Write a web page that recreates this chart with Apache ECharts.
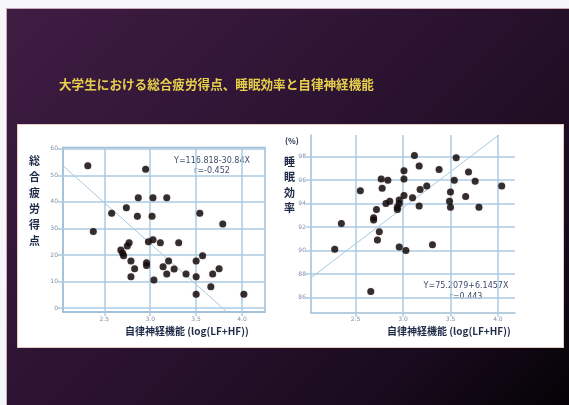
<!DOCTYPE html>
<html>
<head>
<meta charset="utf-8">
<script src="https://cdn.jsdelivr.net/npm/echarts@6/dist/echarts.min.js"></script>
<style>
  html, body { margin: 0; padding: 0; background: #f6f5f7; overflow: hidden; }
  #stage { position: relative; width: 569px; height: 405px; }
  #slide {
    position: absolute; left: 6px; top: 8px; width: 562px; height: 396px;
    border-left: 1px solid #c9a9b8; border-top: 1px solid #c9a9b8;
    background: linear-gradient(135deg, #3e1d43 0%, #2c1331 45%, #190b1d 80%, #040205 100%);
  }
  #panel {
    position: absolute; left: 17px; top: 124px; width: 545px; height: 222px;
    background: #ffffff; border: 1px solid #e8c9c6;
  }
  #chart { position: absolute; left: 0; top: 0; width: 569px; height: 405px; }
</style>
</head>
<body>
<div id="stage">
  <div id="slide"></div>
  <div id="panel"></div>
  <div id="chart"></div>
</div>
<script>
// Autonomic nerve function (log(LF+HF)) vs. total fatigue score and sleep efficiency
const titleText = '大学生における総合疲労得点、睡眠効率と自律神経機能';
const xAxisTitle = '自律神経機能 (log(LF+HF))';
const fatigueTitle = '総合疲労得点';
const efficiencyTitle = '睡眠効率';

const xTicks = [2.5, 3.0, 3.5, 4.0];
const fatigueTicks = [0, 10, 20, 30, 40, 50, 60];
const efficiencyTicks = [86, 88, 90, 92, 94, 96, 98];

// [log(LF+HF), total fatigue score]
const fatiguePoints = [
  [2.32, 53.6], [2.95, 52.3], [2.87, 41.6], [3.03, 41.6], [3.18, 41.6],
  [2.74, 37.8], [2.58, 35.7], [2.86, 34.6], [3.02, 34.6], [3.54, 35.7],
  [3.79, 31.7], [2.38, 28.8], [2.98, 25.0], [3.03, 25.7], [3.11, 24.6],
  [3.31, 24.6], [2.77, 24.6], [2.75, 23.4], [2.68, 21.9], [2.70, 20.6],
  [2.71, 19.7], [2.79, 17.7], [2.96, 17.1], [2.96, 16.0], [2.83, 14.8],
  [2.79, 11.8], [3.04, 10.6], [3.14, 15.6], [3.20, 17.7], [3.26, 14.7],
  [3.18, 12.8], [3.39, 12.8], [3.50, 17.7], [3.57, 19.7], [3.50, 11.8],
  [3.50, 5.2], [3.66, 8.0], [3.68, 12.8], [3.75, 14.8], [4.02, 5.2]
];

// [log(LF+HF), sleep efficiency %]
const efficiencyPoints = [
  [3.12, 98.1], [3.56, 97.9], [3.17, 97.2], [3.01, 96.8], [3.38, 96.9],
  [3.69, 96.7], [2.77, 96.1], [2.84, 96.0], [3.01, 96.1], [3.54, 96.0],
  [3.76, 95.9], [4.04, 95.5], [2.55, 95.1], [2.78, 95.3], [3.25, 95.5],
  [3.18, 95.2], [3.50, 95.0], [3.01, 94.7], [3.10, 94.5], [3.66, 94.6],
  [2.96, 94.3], [2.86, 94.2], [2.82, 94.0], [2.96, 94.0], [2.94, 93.7],
  [2.94, 93.5], [3.17, 93.8], [3.49, 94.2], [3.50, 93.7], [3.80, 93.7],
  [2.72, 93.5], [2.69, 92.8], [2.69, 92.6], [2.35, 92.3], [2.75, 91.6],
  [2.73, 90.9], [2.28, 90.1], [2.96, 90.3], [3.03, 90.0], [3.31, 90.5],
  [2.66, 86.5]
];

// Regression results: [intercept, slope]
const fatigueFit = [116.818, -30.84];
const efficiencyFit = [75.2079, 6.1457];
const fatigueEquation = ['Y=116.818-30.84X', 'r=-0.452'];
const efficiencyEquation = ['Y=75.2079+6.1457X', 'r=0.443'];

const fatigueRange = { xMin: 2.05, xMax: 4.25, yMin: -1.5, yMax: 60.5 };
const efficiencyRange = { xMin: 2.03, xMax: 4.18, yMin: 84.7, yMax: 99.85 };

// Clip a fitted line y = a + b x to the plotting rectangle
function fitSegment(fit, r) {
  const a = fit[0], b = fit[1];
  const pts = [];
  const cand = [
    [r.xMin, a + b * r.xMin],
    [r.xMax, a + b * r.xMax],
    [(r.yMin - a) / b, r.yMin],
    [(r.yMax - a) / b, r.yMax]
  ];
  cand.forEach(p => {
    if (p[0] >= r.xMin - 1e-9 && p[0] <= r.xMax + 1e-9 &&
        p[1] >= r.yMin - 1e-9 && p[1] <= r.yMax + 1e-9) pts.push(p);
  });
  pts.sort((p, q) => p[0] - q[0]);
  return [pts[0], pts[pts.length - 1]];
}

const gridColor = '#abcbe2';
const axisColor = '#a0bfd6';
const tickLabelColor = '#7f90a6';
const darkText = '#1f2a47';
const eqColor = '#3d4b6b';
const jpFont = '"Noto Sans CJK JP", "Noto Sans", sans-serif';

function makeXAxis(gridIndex, r) {
  return {
    type: 'value', gridIndex: gridIndex, min: r.xMin, max: r.xMax,
    axisLine: { show: true, onZero: false, lineStyle: { color: axisColor, width: 1.5 } },
    axisTick: { show: true, length: 4, customValues: xTicks, lineStyle: { color: gridColor, width: 1.5 } },
    axisLabel: { customValues: xTicks, fontSize: 6, color: tickLabelColor, margin: 4,
                 fontFamily: 'DejaVu Sans', formatter: v => v.toFixed(1) },
    splitLine: { show: false }
  };
}
function makeYAxis(gridIndex, r, ticks) {
  return {
    type: 'value', gridIndex: gridIndex, min: r.yMin, max: r.yMax,
    axisLine: { show: true, onZero: false, lineStyle: { color: axisColor, width: 1.5 } },
    axisTick: { show: true, length: 5, customValues: ticks, lineStyle: { color: gridColor, width: 1.5 } },
    axisLabel: { customValues: ticks, fontSize: 6, color: tickLabelColor, margin: 5,
                 fontFamily: 'DejaVu Sans' },
    splitLine: { show: false }
  };
}

// Grid lines at the tick values, drawn as mark lines behind the data
function gridMarks(yTicks) {
  return {
    silent: true, symbol: 'none',
    label: { show: false },
    lineStyle: { color: gridColor, width: 1.5, type: 'solid' },
    data: xTicks.map(v => ({ xAxis: v })).concat(yTicks.map(v => ({ yAxis: v })))
  };
}

const dotStyle = {
  color: '#080809',
  shadowColor: 'rgba(160, 50, 30, 0.35)',
  shadowBlur: 1.5
};

const chart = echarts.init(document.getElementById('chart'), null, { renderer: 'canvas' });

chart.setOption({
  backgroundColor: 'transparent',
  animation: false,
  title: {
    text: titleText,
    left: 54, top: 73,
    textStyle: { color: '#e7d04c', fontSize: 12.6, fontWeight: 'bold', fontFamily: jpFont }
  },
  graphic: [
    {
      type: 'text', silent: true, left: 29, top: 153,
      style: { text: fatigueTitle.split('').join('\n'), fill: darkText,
               font: 'bold 11px ' + jpFont, lineHeight: 16 }
    },
    {
      type: 'text', silent: true, left: 285, top: 137,
      style: { text: '(%)', fill: darkText, font: 'bold 8px ' + jpFont }
    },
    {
      type: 'text', silent: true, left: 284, top: 154,
      style: { text: efficiencyTitle.split('').join('\n'), fill: darkText,
               font: 'bold 11px ' + jpFont, lineHeight: 15.5 }
    },
    {
      type: 'text', silent: true, left: 125, top: 326,
      style: { text: xAxisTitle, fill: darkText, font: 'bold 10px ' + jpFont }
    },
    {
      type: 'text', silent: true, left: 387, top: 326,
      style: { text: xAxisTitle, fill: darkText, font: 'bold 10px ' + jpFont }
    },
    {
      type: 'text', silent: true, x: 212, y: 156,
      style: { text: fatigueEquation.join('\n'), fill: eqColor, align: 'center',
               font: '8px "DejaVu Sans"', lineHeight: 10 }
    },
    {
      type: 'text', silent: true, x: 466, y: 280,
      style: { text: efficiencyEquation.join('\n'), fill: eqColor, align: 'center',
               font: '8px "DejaVu Sans"', lineHeight: 11 }
    }
  ],
  grid: [
    { left: 63, top: 147.5, width: 202, height: 164.5, show: true,
      borderColor: axisColor, borderWidth: 1.5, backgroundColor: 'transparent' },
    { left: 311, top: 135, width: 204, height: 177.7 }
  ],
  xAxis: [makeXAxis(0, fatigueRange), makeXAxis(1, efficiencyRange)],
  yAxis: [makeYAxis(0, fatigueRange, fatigueTicks), makeYAxis(1, efficiencyRange, efficiencyTicks)],
  series: [
    {
      type: 'line', xAxisIndex: 0, yAxisIndex: 0, data: fitSegment(fatigueFit, fatigueRange),
      symbol: 'none', lineStyle: { color: '#a6c9e0', width: 1 }, z: 3, silent: true,
      markLine: gridMarks(fatigueTicks)
    },
    {
      type: 'line', xAxisIndex: 1, yAxisIndex: 1, data: fitSegment(efficiencyFit, efficiencyRange),
      symbol: 'none', lineStyle: { color: '#a6c9e0', width: 1 }, z: 3, silent: true,
      markLine: gridMarks(efficiencyTicks)
    },
    {
      type: 'scatter', xAxisIndex: 0, yAxisIndex: 0, data: fatiguePoints,
      symbolSize: 7, itemStyle: dotStyle, z: 5
    },
    {
      type: 'scatter', xAxisIndex: 1, yAxisIndex: 1, data: efficiencyPoints,
      symbolSize: 7, itemStyle: dotStyle, z: 5
    }
  ]
});
</script>
</body>
</html>
